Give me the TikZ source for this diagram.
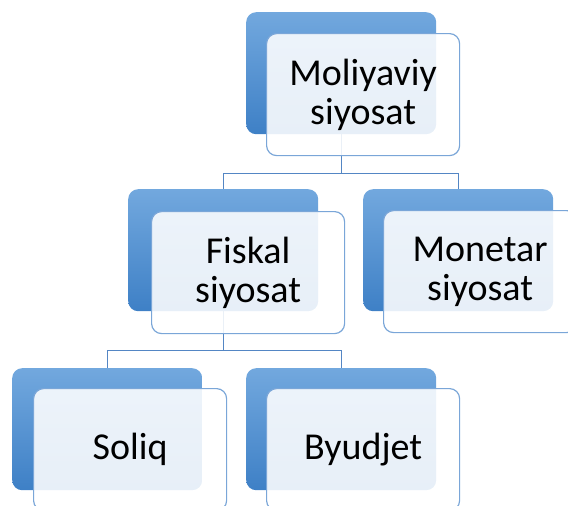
\documentclass[tikz,border=0pt]{standalone}
\usepackage{fontspec}
\setmainfont{Carlito}
\usepackage{xcolor}
\usepackage{tikz}
\usetikzlibrary{positioning}

\definecolor{backtop}{RGB}{114,168,222}
\definecolor{backbot}{RGB}{62,128,198}
\definecolor{edgeblue}{RGB}{122,166,216}
\definecolor{linkblue}{RGB}{84,134,196}

\begin{document}
\begin{tikzpicture}[
    x=1pt, y=1pt,
    back/.style={rectangle, rounded corners=10pt, top color=backtop, bottom color=backbot, minimum width=190pt, minimum height=122pt, anchor=north west, inner sep=0pt},
    front/.style={rectangle, rounded corners=10pt, draw=edgeblue, line width=1.2pt, fill=white, fill opacity=0.88, text opacity=1, minimum width=193pt, minimum height=122pt, inner sep=0pt, align=center, font=\fontsize{38}{39}\selectfont},
    link/.style={draw=linkblue, line width=1pt}
]

\useasboundingbox (0,0) rectangle (568,-506);
\clip (0,0) rectangle (568,-506);

\node[back] (moliyab) at (246,-12) {};
\node[back] (fiskalb) at (128,-189) {};
\node[back] (monetarb) at (363,-189) {};
\node[back] (soliqb) at (12,-368) {};
\node[back] (byudjetb) at (246,-368) {};

\draw[link] (moliyab.south) -- ++(0,-39) -| (fiskalb.north);
\draw[link] (moliyab.south) -- ++(0,-39) -| (monetarb.north);
\draw[link] (fiskalb.south) -- ++(0,-39) -| (soliqb.north);
\draw[link] (fiskalb.south) -- ++(0,-39) -| (byudjetb.north);

\node[front, below right=21pt and 20pt of moliyab.north west] (moliya) {Moliyaviy\\siyosat};
\node[front, below right=22pt and 23pt of fiskalb.north west] (fiskal) {Fiskal\\siyosat};
\node[front, below right=21pt and 20pt of monetarb.north west] (monetar) {Monetar\\siyosat};
\node[front, below right=20pt and 21pt of soliqb.north west] (soliq) {Soliq};
\node[front, below right=20pt and 20pt of byudjetb.north west] (byudjet) {Byudjet};

\end{tikzpicture}
\end{document}
